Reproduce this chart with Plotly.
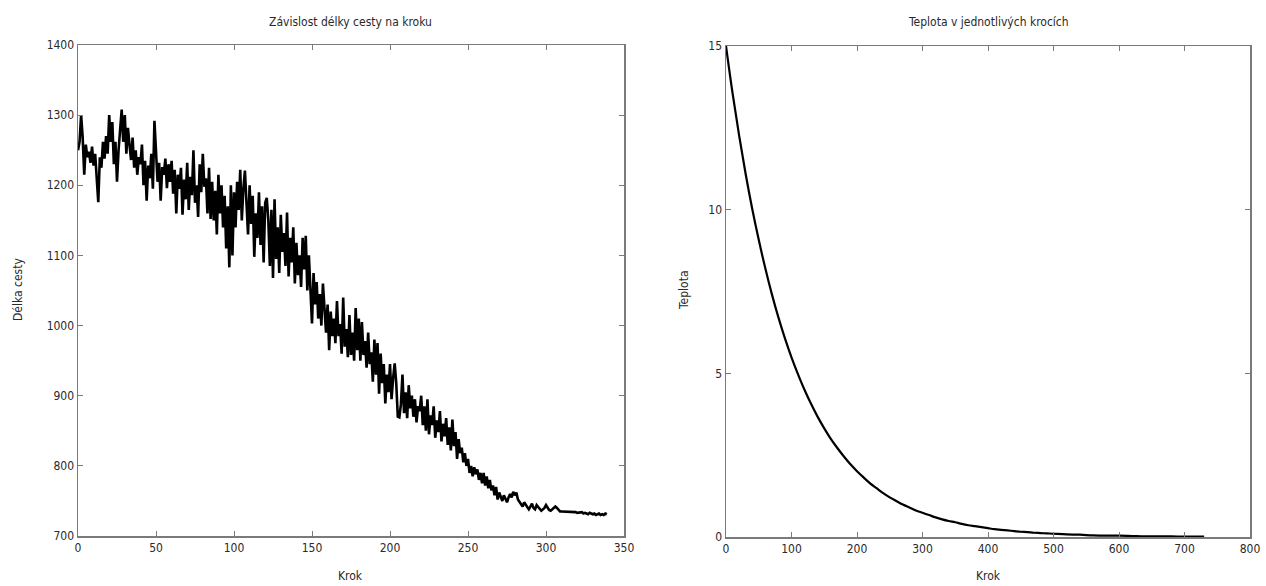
import plotly.graph_objects as go

# ---------------- data ----------------
path_length = [
    1250, 1262, 1300, 1268, 1215, 1258, 1240, 1248, 1232, 1255, 1228, 1245, 1210, 1176, 1240, 1225, 1262, 1238, 1270, 1245,
    1300, 1262, 1290, 1230, 1262, 1205, 1250, 1280, 1308, 1262, 1300, 1245, 1282, 1258, 1236, 1268, 1225, 1250, 1215, 1240,
    1230, 1258, 1200, 1235, 1178, 1228, 1210, 1245, 1195, 1292, 1240, 1205, 1232, 1178, 1226, 1215, 1238, 1196, 1230, 1205,
    1235, 1188, 1222, 1160, 1215, 1195, 1225, 1158, 1208, 1180, 1232, 1165, 1212, 1186, 1250, 1175, 1200, 1155, 1230, 1190,
    1245, 1198, 1210, 1160, 1225, 1152, 1205, 1150, 1192, 1130, 1215, 1160, 1200, 1140, 1185, 1110, 1170, 1083, 1200, 1100,
    1190, 1140, 1205, 1165, 1222, 1150, 1195, 1221, 1175, 1130, 1200, 1145, 1185, 1098, 1160, 1125, 1190, 1115, 1170, 1090,
    1175, 1182, 1150, 1085, 1165, 1068, 1180, 1095, 1140, 1075, 1158, 1105, 1132, 1085, 1161, 1070, 1125, 1090, 1140, 1060,
    1118, 1072, 1100, 1055, 1125, 1080, 1128, 1050, 1100, 1040, 1003, 1075, 1030, 1062, 1010, 1045, 1000, 1060, 1020, 990,
    1030, 965, 1020, 985, 1010, 975, 1035, 985, 1002, 960, 1040, 970, 995, 955, 1015, 958, 990, 950, 1025, 965,
    1010, 950, 1005, 958, 978, 940, 990, 945, 962, 920, 980, 930, 975, 903, 960, 918, 945, 889, 930, 905,
    945, 895, 925, 946, 918, 870, 869, 888, 930, 875, 905, 868, 915, 882, 900, 870, 895, 862, 885, 878,
    900, 858, 885, 850, 895, 845, 872, 858, 885, 840, 865, 848, 878, 835, 860, 842, 868, 830, 855, 822,
    866, 828, 848, 810, 838, 818, 826, 805, 818, 800, 810, 790, 800, 785, 798, 788, 795, 780, 790, 775,
    790, 772, 785, 768, 780, 765, 772, 758, 770, 752, 762, 755, 750, 758, 752, 748, 755, 760, 755, 763,
    758, 762, 752, 748, 745, 742, 748, 744, 740, 738, 742, 746, 740, 738, 744, 741, 738, 736, 738, 740,
    744, 740, 737, 736, 738, 740, 742, 740, 737, 735, 735, 735, 735, 735, 734, 734, 734, 734, 734, 734,
    733, 733, 733, 734, 732, 733, 732, 731, 733, 732, 731, 732, 730, 731, 732, 730, 731, 730, 732, 731,
]
path_steps = list(range(len(path_length)))

temp_steps = [0, 10, 20, 30, 40, 50, 60, 70, 80, 90, 100, 110, 120, 130, 140, 150, 160, 170, 180, 190,
              200, 210, 220, 230, 240, 250, 260, 270, 280, 290, 300, 310, 320, 330, 340, 350, 360, 370,
              380, 390, 400, 410, 420, 430, 440, 450, 460, 470, 480, 490, 500, 520, 540, 560, 580, 600,
              620, 640, 660, 680, 700, 730]
temperature = [15.0, 13.56, 12.27, 11.09, 10.03, 9.08, 8.21, 7.42, 6.71, 6.07, 5.49, 4.97, 4.49, 4.06,
               3.67, 3.32, 3.00, 2.72, 2.46, 2.22, 2.01, 1.82, 1.64, 1.49, 1.34, 1.21, 1.10, 0.99, 0.90,
               0.81, 0.74, 0.67, 0.60, 0.54, 0.49, 0.45, 0.40, 0.36, 0.33, 0.30, 0.27, 0.24, 0.22, 0.20,
               0.18, 0.16, 0.15, 0.13, 0.12, 0.11, 0.10, 0.08, 0.07, 0.05, 0.04, 0.04, 0.03, 0.02, 0.02,
               0.02, 0.01, 0.01]

left_title = "Závislost délky cesty na kroku"
right_title = "Teplota v jednotlivých krocích"
x_label = "Krok"
left_ylabel = "Délka cesty"
right_ylabel = "Teplota"

# ---------------- figure ----------------
W, H = 1266, 586
FONT = "Liberation Sans Narrow, DejaVu Sans Condensed, Arial Narrow, sans-serif"
TXT = "#2a2a2a"

fig = go.Figure()
fig.add_trace(go.Scatter(x=path_steps, y=path_length, mode="lines",
                         line=dict(color="black", width=2.6), xaxis="x", yaxis="y",
                         showlegend=False, hoverinfo="skip"))
fig.add_trace(go.Scatter(x=temp_steps, y=temperature, mode="lines",
                         line=dict(color="black", width=2.2, shape="spline"), xaxis="x2", yaxis="y2",
                         showlegend=False, hoverinfo="skip"))

def fx(px):
    return px / W

def fy(py):
    return 1 - py / H

axis_common = dict(
    showline=True, mirror="ticks", linecolor="#7a7a7a", linewidth=1.5,
    ticks="inside", ticklen=5, tickcolor="#7a7a7a", tickwidth=1,
    showgrid=False, zeroline=False, automargin=False,
    tickfont=dict(family=FONT, size=12, color=TXT),
)

L = (78, 624, 45, 536)
R = (726, 1250, 46, 537)

fig.update_layout(
    width=W, height=H, autosize=False,
    margin=dict(l=0, r=0, t=0, b=0),
    paper_bgcolor="white", plot_bgcolor="white",
    font=dict(family=FONT, size=12, color=TXT),
    xaxis=dict(domain=[fx(L[0]), fx(L[1])], range=[0, 350], tickvals=list(range(0, 351, 50)),
               anchor="y", **axis_common),
    yaxis=dict(domain=[fy(L[3]), fy(L[2])], range=[700, 1400], tickvals=list(range(700, 1401, 100)),
               anchor="x", **axis_common),
    xaxis2=dict(domain=[fx(R[0]), fx(R[1])], range=[0, 800], tickvals=list(range(0, 801, 100)),
                anchor="y2", **axis_common),
    yaxis2=dict(domain=[fy(R[3]), fy(R[2])], range=[0, 15], tickvals=[0, 5, 10, 15],
                anchor="x2", **axis_common),
)

def ann(text, x, y, angle=0):
    return dict(text=text, x=fx(x), y=fy(y), xref="paper", yref="paper", showarrow=False,
                textangle=angle, font=dict(family=FONT, size=12, color=TXT),
                xanchor="center", yanchor="middle")

fig.update_layout(annotations=[
    ann(left_title, (L[0] + L[1]) / 2, 22),
    ann(right_title, (R[0] + R[1]) / 2, 22),
    ann(x_label, (L[0] + L[1]) / 2, 576),
    ann(x_label, (R[0] + R[1]) / 2, 576),
    ann(left_ylabel, 18, 290, -90),
    ann(right_ylabel, 684, 290, -90),
])

fig.write_html(
    "out.html",
    config={"displayModeBar": False, "staticPlot": True},
    post_script=(
        "document.body.style.margin='0';"
        "document.body.style.padding='0';"
        "document.documentElement.style.overflow='hidden';"
        "document.body.style.overflow='hidden';"
    ),
)
